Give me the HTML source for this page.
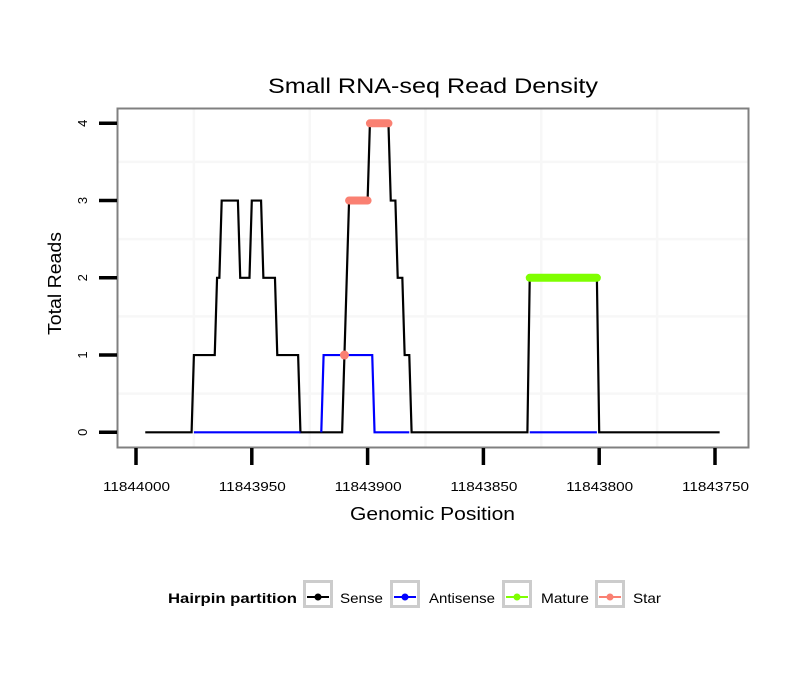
<!DOCTYPE html>
<html><head><meta charset="utf-8"><style>
body{margin:0;background:#fff;}
svg text{font-family:"Liberation Sans",sans-serif;}
</style></head><body>
<svg id="chart" width="810" height="690" viewBox="0 0 810 690" xmlns="http://www.w3.org/2000/svg">
<rect width="810" height="690" fill="#fff"/>
<text x="268" y="93" font-size="21" textLength="330" lengthAdjust="spacingAndGlyphs">Small RNA-seq Read Density</text>
<g id="grid"></g>
<g id="series"></g>
<rect x="117.5" y="108.5" width="631" height="339" fill="none" stroke="#808080" stroke-width="2"/>
<g id="axes"></g>
<text x="350" y="520" font-size="18" textLength="165" lengthAdjust="spacingAndGlyphs">Genomic Position</text>
<text transform="translate(61,335) rotate(-90)" font-size="18" textLength="103" lengthAdjust="spacingAndGlyphs">Total Reads</text>
<g>
<text x="168" y="603" font-size="14" font-weight="bold" textLength="129" lengthAdjust="spacingAndGlyphs">Hairpin partition</text>
<g><rect x="304.5" y="581.5" width="27" height="25" fill="#fff" stroke="#ccc" stroke-width="3"/><line x1="307" y1="597" x2="329" y2="597" stroke="#000" stroke-width="2"/><circle cx="318" cy="597" r="3.5" fill="#000"/><text x="340" y="603" font-size="14" textLength="43" lengthAdjust="spacingAndGlyphs">Sense</text></g>
<g><rect x="391.5" y="581.5" width="27" height="25" fill="#fff" stroke="#ccc" stroke-width="3"/><line x1="394" y1="597" x2="416" y2="597" stroke="#00f" stroke-width="2"/><circle cx="405" cy="597" r="3.5" fill="#00f"/><text x="429" y="603" font-size="14" textLength="66" lengthAdjust="spacingAndGlyphs">Antisense</text></g>
<g><rect x="503.5" y="581.5" width="27" height="25" fill="#fff" stroke="#ccc" stroke-width="3"/><line x1="506" y1="597" x2="528" y2="597" stroke="#7fff00" stroke-width="2"/><circle cx="517" cy="597" r="3.5" fill="#7fff00"/><text x="541" y="603" font-size="14" textLength="48" lengthAdjust="spacingAndGlyphs">Mature</text></g>
<g><rect x="596.5" y="581.5" width="27" height="25" fill="#fff" stroke="#ccc" stroke-width="3"/><line x1="599" y1="597" x2="621" y2="597" stroke="#fa8072" stroke-width="2"/><circle cx="610" cy="597" r="3.5" fill="#fa8072"/><text x="633" y="603" font-size="14" textLength="28" lengthAdjust="spacingAndGlyphs">Star</text></g>
</g>
</svg>
<script>
const xTicks = [11844000, 11843950, 11843900, 11843850, 11843800, 11843750];
const yTicks = [0, 1, 2, 3, 4];
const senseX = [11843996,11843976,11843975,11843966,11843965,11843964,11843963,11843956,11843955,11843951,11843950,11843946,11843945,11843940,11843939,11843930,11843929,11843911,11843908,11843900,11843899,11843891,11843890,11843888,11843887,11843885,11843884,11843882,11843881,11843831,11843830,11843801,11843800,11843748];
const senseY = [0,0,1,1,2,2,3,3,2,2,3,3,2,2,1,1,0,0,3,3,4,4,3,3,2,2,1,1,0,0,2,2,0,0];
const antiX = [[11843975,11843929],[11843920,11843919,11843898,11843897,11843882],[11843830,11843801]];
const antiY = [[0,0],[0,1,1,0,0],[0,0]];
const matureX = [11843830,11843801];
const matureY = [2,2];
const starX = [[11843910],[11843908,11843900],[11843899,11843891]];
const starY = [[1],[3,3],[4,4]];

const NS = "http://www.w3.org/2000/svg";
const xS = v => 136 + (11844000 - v) * 579 / 250;
const yS = v => 432.3 - v * 77.25;
function mk(tag, attrs, parent){const e=document.createElementNS(NS,tag);for(const k in attrs)e.setAttribute(k,attrs[k]);parent.appendChild(e);return e;}
const grid=document.getElementById('grid'), ser=document.getElementById('series'), ax=document.getElementById('axes');
mk('rect',{x:117,y:108,width:632,height:340,fill:'#fff'},grid);
for(let v=11844000-25; v>11843740; v-=50){const l=mk('line',{x1:xS(v),x2:xS(v),y1:109,y2:447,stroke:'#f7f7f7','stroke-width':2.5},grid);

}
for(let v=0.5; v<4.3; v+=1){const l=mk('line',{x1:118,x2:748,y1:yS(v),y2:yS(v),stroke:'#f7f7f7','stroke-width':2.5},grid);

}
xTicks.forEach(t=>{const l=mk('line',{x1:xS(t),x2:xS(t),y1:448,y2:465,stroke:'#000','stroke-width':3.5},ax);


const tx=mk('text',{x:xS(t)-33,y:491,'font-size':13,textLength:67,lengthAdjust:'spacingAndGlyphs'},ax);tx.textContent=t;

});
yTicks.forEach(t=>{const l=mk('line',{x1:99,x2:117,y1:yS(t),y2:yS(t),stroke:'#000','stroke-width':3.5},ax);


const tx=mk('text',{transform:`translate(${87},${yS(t)}) rotate(-90)`,'font-size':13,'text-anchor':'middle'},ax);tx.textContent=t;

});
function pts(xs,ys){return xs.map((x,i)=>xS(x)+','+yS(ys[i])).join(' ');}
const sl=mk('polyline',{points:pts(senseX,senseY),fill:'none',stroke:'#000','stroke-width':2.2},ser);


antiX.forEach((xs,i)=>{const l=mk('polyline',{points:pts(xs,antiY[i]),fill:'none',stroke:'#00f','stroke-width':2.2},ser);

});
const ml=mk('polyline',{points:pts(matureX,matureY),fill:'none',stroke:'#7fff00','stroke-width':8,'stroke-linecap':'round'},ser);


starX.forEach((xs,i)=>{let el;
if(xs.length===1){el=mk('circle',{cx:xS(xs[0]),cy:yS(starY[i][0]),r:4.5,fill:'#fa8072'},ser);}
else{el=mk('polyline',{points:pts(xs,starY[i]),fill:'none',stroke:'#fa8072','stroke-width':8,'stroke-linecap':'round'},ser);}

});
</script>
</body></html>
